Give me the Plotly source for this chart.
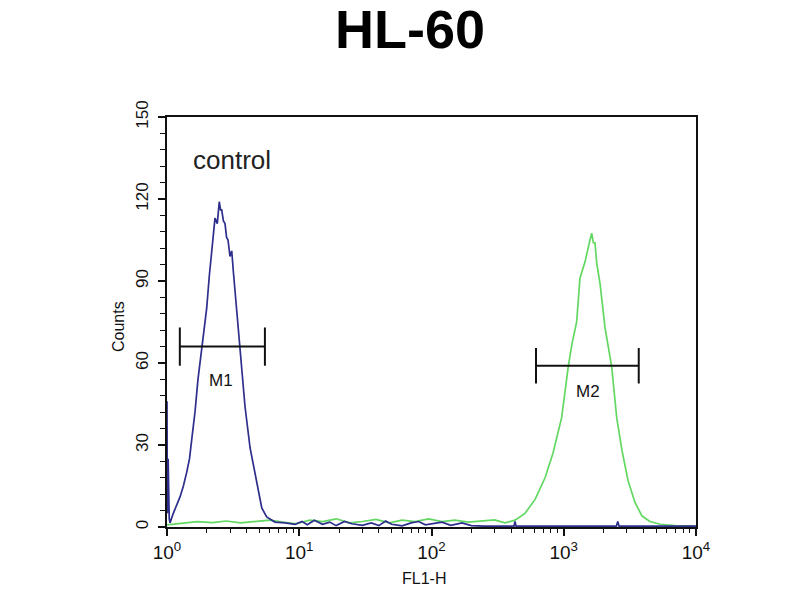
import plotly.graph_objects as go

# ---- data ----
blue_fl = [1.0, 1.005, 1.01, 1.015, 1.02, 1.027, 1.033, 1.04, 1.054, 1.116,
           1.254, 1.33, 1.409, 1.48, 1.538, 1.628, 1.715, 1.829, 1.91, 1.995,
           2.09, 2.177, 2.24, 2.306, 2.40, 2.484, 2.54, 2.592, 2.67, 2.746,
           2.82, 2.893, 2.995, 3.087, 3.18, 3.265, 3.40, 3.565, 3.72, 3.891,
           4.246, 4.5, 4.765, 5.206, 5.67, 6.55, 7.8, 9.3,
           10.5, 11.5, 13, 15, 17, 19, 22, 25, 30, 35,
           40, 45, 50, 60, 70, 80, 90, 100, 120, 140,
           170, 200, 250, 350, 420, 428, 436, 2500, 2560, 2620, 10000]
blue_counts = [46, 5, 44, 8, 25, 4, 24, 3, 1.5, 5,
               11, 15, 20, 25, 32, 42, 54, 66, 72, 80,
               92, 102, 108, 113, 111, 119, 116, 116, 112, 111,
               106, 105, 99, 101, 93, 87, 77, 66, 55, 44,
               29, 23, 17, 7, 3.7, 1.8, 1.5, 1,
               2, 0.8, 2.5, 1, 1.8, 0.5, 2, 1.2, 0.6, 1.5,
               0.5, 2.2, 1, 0.4, 1.5, 2, 0.8, 1.2, 1.8, 0.6,
               1.5, 0.5, 0.3, 0.3, 0.3, 2, 0.3, 0.3, 2, 0.3, 0.3]

green_fl = [1.0, 1.3, 1.7, 2.2, 2.8, 3.6, 4.6, 6, 7.5, 9.5,
            12, 15, 19, 24, 30, 38, 48, 60, 75, 95,
            120, 150, 190, 240, 300, 359, 428, 509, 606, 722,
            829, 964, 1081, 1154, 1252, 1326, 1448, 1579, 1627, 1673,
            1723, 1775, 1881, 2050, 2305, 2514, 2756, 3061, 3456, 3908,
            4489, 5345, 6934, 9820]
green_counts = [0.8, 1.5, 2, 1.6, 2.2, 1.5, 2, 2.5, 1.8, 1.2,
                2.5, 2, 3, 1.5, 2, 2.8, 1.5, 2.5, 2, 3,
                2, 2.5, 1.8, 2.2, 2.6, 1.5, 2.5, 5, 10, 18,
                27, 40, 58.6, 67, 75, 91, 97, 105, 107.5, 104,
                104, 96.5, 89, 73, 58.6, 40, 28, 17, 9, 4,
                2, 1, 0.5, 0.3]

m1_range = [1.25, 5.5]
m1_level = 66
m2_range = [617, 3690]
m2_level = 59

x_tick_vals = [1, 10, 100, 1000, 10000]
x_tick_text = ["10<sup>0</sup>", "10<sup>1</sup>", "10<sup>2</sup>", "10<sup>3</sup>", "10<sup>4</sup>"]
x_minor_vals = [m * 10 ** k for k in range(4) for m in range(2, 10)]
y_tick_vals = [0, 30, 60, 90, 120, 150]
y_minor_vals = list(range(0, 151, 6))

fig = go.Figure()

fig.add_trace(go.Scatter(x=green_fl, y=green_counts, mode="lines",
                         line=dict(color="#62d862", width=1.7), hoverinfo="skip"))
fig.add_trace(go.Scatter(x=blue_fl, y=blue_counts, mode="lines",
                         line=dict(color="#2e2e8c", width=1.7), hoverinfo="skip"))


def marker_trace(rng, level, cap):
    xs = [rng[0], rng[1], None, rng[0], rng[0], None, rng[1], rng[1]]
    ys = [level, level, None, level - cap, level + cap, None, level - cap, level + cap]
    return go.Scatter(x=xs, y=ys, mode="lines", line=dict(color="#111111", width=2),
                      hoverinfo="skip")


fig.add_trace(marker_trace(m1_range, m1_level, 7))
fig.add_trace(marker_trace(m2_range, m2_level, 6.5))

font_main = "Liberation Sans, Arial, sans-serif"

# page offset of the figure inside the html body
OFF = 8
# desired plot area in page pixels
PL, PR, PT, PB = 167, 696, 117, 527

fig.update_layout(
    width=800, height=600,
    margin=dict(l=PL - OFF, r=800 - (PR - OFF), t=PT - OFF, b=600 - (PB - OFF)),
    paper_bgcolor="white", plot_bgcolor="white",
    showlegend=False,
    font=dict(family=font_main, color="#111111", size=16),
)

fig.update_xaxes(
    type="log", range=[0, 4],
    tickvals=x_tick_vals, ticktext=x_tick_text,
    ticks="outside", ticklen=7, tickwidth=1.5, tickcolor="#111",
    minor=dict(tickvals=x_minor_vals, ticks="outside", ticklen=4, tickwidth=1.2, tickcolor="#111"),
    showline=True, linecolor="#111", linewidth=2, mirror=True,
    showgrid=False, zeroline=False,
    tickfont=dict(size=19, family=font_main, color="#111"),
)
fig.update_yaxes(
    range=[0, 150],
    tickvals=y_tick_vals,
    ticks="outside", ticklen=7, tickwidth=1.5, tickcolor="#111",
    minor=dict(tickvals=y_minor_vals, ticks="outside", ticklen=5, tickwidth=1.2, tickcolor="#111"),
    tickangle=-90, ticklabelstandoff=3,
    showline=True, linecolor="#111", linewidth=2, mirror=True,
    showgrid=False, zeroline=False,
    tickfont=dict(size=17, family=font_main, color="#111"),
)

annotations = [
    dict(text="<b>HL-60</b>", x=410, y=29, size=54, color="#000"),
    dict(text="Counts", x=118, y=327, size=16, angle=-90),
    dict(text="FL1-H", x=424, y=578, size=16),
    dict(text="control", x=232, y=160, size=26, color="#222"),
    dict(text="M1", x=221, y=380, size=17),
    dict(text="M2", x=588, y=392, size=17),
]
for a in annotations:
    fx = a["x"] - OFF
    fy = a["y"] - OFF
    fig.add_annotation(
        text=a["text"],
        x=(fx - (PL - OFF)) / (PR - PL),
        y=((PB - OFF) - fy) / (PB - PT),
        xref="paper", yref="paper", showarrow=False,
        xanchor="center", yanchor="middle",
        textangle=a.get("angle", 0),
        font=dict(family=font_main, color=a.get("color", "#111"), size=a["size"]),
    )

fig.write_html("out.html")
